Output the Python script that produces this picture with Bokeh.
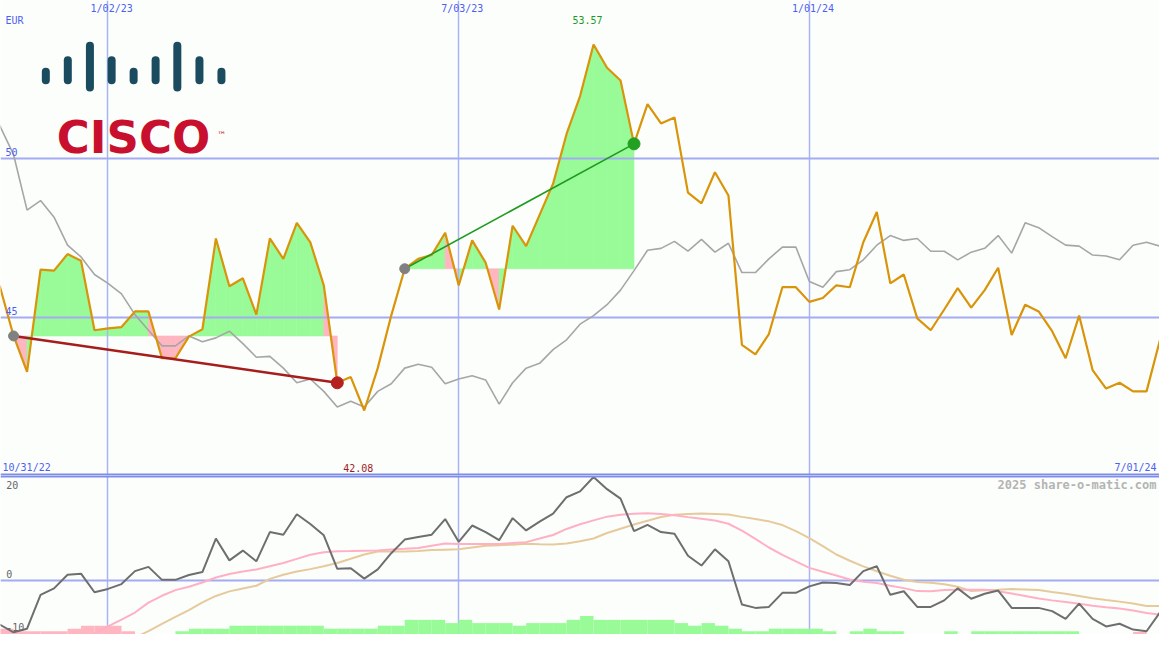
from bokeh.plotting import figure
from bokeh.layouts import column
from bokeh.models import Range1d, Grid, FixedTicker, Label, Span
from bokeh.embed import file_html
from bokeh.resources import INLINE

# ---------------- data ----------------
first_date = "10/31/22"
last_date = "7/01/24"
weeks = list(range(88))
tick_weeks = [9, 35, 61]
tick_labels = ["1/02/23", "7/03/23", "1/01/24"]
price_ticks = [45, 50]
osc_ticks = [20, 0, -10]
currency = "EUR"

price = [46.70, 45.95, 44.42, 43.29, 46.50, 46.47, 46.99, 46.78, 44.60, 44.66,
         44.70, 45.19, 45.19, 43.72, 43.72, 44.40, 44.63, 47.48, 45.98, 46.23,
         45.09, 47.48, 46.84, 47.97, 47.36, 46.01, 42.95, 43.13, 42.08, 43.41,
         45.06, 46.53, 46.84, 46.96, 47.66, 46.01, 47.42, 46.72, 45.25, 47.88,
         47.24, 48.22, 49.20, 50.76, 51.95, 53.57, 52.84, 52.44, 50.45, 51.70,
         51.09, 51.28, 48.92, 48.58, 49.56, 48.83, 44.14, 43.84, 44.48, 45.95,
         45.95, 45.49, 45.61, 46.01, 45.95, 47.36, 48.31, 46.07, 46.35, 44.97,
         44.60, 45.25, 45.92, 45.31, 45.86, 46.56, 44.45, 45.40, 45.19, 44.57,
         43.72, 45.06, 43.35, 42.77, 42.95, 42.68, 42.68, 44.30]

benchmark = [51.89, 51.00, 50.11, 48.37, 48.67, 48.15, 47.27, 46.90, 46.35, 46.07,
             45.74, 45.09, 44.60, 44.11, 44.11, 44.42, 44.24, 44.36, 44.57, 44.18,
             43.75, 43.78, 43.41, 42.95, 43.07, 42.68, 42.19, 42.37, 42.19, 42.68,
             42.92, 43.41, 43.53, 43.44, 42.92, 43.07, 43.17, 43.04, 42.28, 42.95,
             43.41, 43.56, 43.99, 44.30, 44.79, 45.06, 45.40, 45.86, 46.47, 47.11,
             47.17, 47.39, 47.08, 47.45, 47.05, 47.33, 46.41, 46.41, 46.84, 47.21,
             47.21, 46.13, 45.95, 46.44, 46.50, 46.81, 47.27, 47.57, 47.42, 47.48,
             47.08, 47.08, 46.81, 47.05, 47.17, 47.57, 47.02, 47.97, 47.82, 47.54,
             47.27, 47.24, 46.96, 46.93, 46.81, 47.27, 47.36, 47.24]

momentum = [-8.00, -8.43, -9.87, -9.18, -2.68, -1.44, 1.18, 1.37, -2.19, -1.55,
            -0.62, 1.87, 2.68, 0.19, 0.19, 1.12, 1.69, 8.11, 3.93, 5.81,
            3.75, 9.36, 8.86, 12.79, 10.92, 8.75, 2.30, 2.43, 0.43, 2.19,
            5.30, 7.92, 8.43, 8.86, 11.85, 7.49, 10.62, 9.36, 7.81, 12.04,
            9.68, 11.37, 12.92, 16.05, 17.17, 19.94, 17.60, 15.79, 9.55, 10.73,
            9.36, 9.04, 4.81, 2.94, 6.05, 3.75, -4.55, -5.19, -5.00, -2.30,
            -2.30, -1.07, -0.32, -0.43, -0.81, 1.87, 2.81, -2.68, -2.00, -5.00,
            -5.00, -3.75, -1.44, -3.43, -2.49, -1.87, -5.19, -5.19, -5.19, -5.81,
            -7.30, -4.36, -7.30, -8.75, -8.24, -9.36, -9.68, -6.05]

nan = float("nan")
mom_fast = [nan, nan, nan, nan, nan, nan, nan, -11.60, -10.10, -8.75,
            -7.45, -6.09, -4.18, -2.87, -1.78, -1.12, -0.32, 0.64, 1.31, 1.78,
            2.17, 2.81, 3.41, 4.21, 5.00, 5.47, 5.66, 5.71, 5.77, 5.81,
            6.03, 6.14, 6.31, 6.74, 7.17, 7.06, 7.06, 7.06, 7.06, 7.25,
            7.43, 8.11, 8.80, 9.96, 10.86, 11.61, 12.32, 12.70, 12.88, 12.98,
            12.85, 12.58, 12.23, 11.91, 11.59, 10.96, 9.64, 8.05, 6.40, 5.00,
            3.75, 2.49, 1.74, 1.01, 0.26, -0.19, -0.43, -0.94, -1.40, -1.97,
            -2.00, -1.78, -1.69, -1.69, -1.72, -1.99, -2.43, -2.90, -3.41, -3.75,
            -4.06, -4.40, -4.78, -5.06, -5.30, -5.71, -6.18, -6.46]

mom_slow = [nan, nan, nan, nan, nan, nan, nan, nan, nan, nan,
            nan, -10.90, -9.64, -8.24, -6.93, -5.62, -4.12, -2.90, -2.02, -1.46,
            -0.94, 0.37, 1.18, 1.80, 2.25, 2.81, 3.41, 4.23, 5.06, 5.62,
            5.62, 5.62, 5.73, 5.90, 5.99, 6.05, 6.42, 6.74, 6.82, 6.95,
            7.13, 7.00, 6.97, 7.17, 7.58, 8.13, 9.18, 10.00, 10.82, 11.55,
            12.25, 12.70, 12.85, 12.92, 12.85, 12.72, 12.28, 11.85, 11.42, 10.71,
            9.55, 8.18, 6.65, 5.06, 3.86, 2.77, 1.84, 0.97, 0.22, -0.21,
            -0.37, -0.66, -1.12, -1.97, -1.80, -1.69, -1.57, -1.65, -1.74, -2.15,
            -2.49, -2.90, -3.33, -3.67, -3.99, -4.36, -4.81, -4.81]

hist = [-1.12, -1.12, -0.62, -0.62, -0.62, -0.62, -1.12, -1.69, -1.69, -1.69,
        -0.62, 0, 0, 0, 0.62, 1.12, 1.12, 1.12, 1.69, 1.69,
        1.69, 1.69, 1.69, 1.69, 1.69, 1.12, 1.12, 1.12, 1.12, 1.69,
        1.69, 2.81, 2.81, 2.81, 2.19, 2.81, 2.19, 2.19, 2.19, 1.69,
        2.19, 2.19, 2.19, 2.81, 3.56, 2.81, 2.81, 2.81, 2.81, 2.81,
        2.81, 2.19, 1.69, 2.19, 1.69, 1.12, 0.62, 0.62, 1.12, 1.12,
        1.12, 1.12, 0.62, 0, 0.62, 1.12, 0.62, 0.62, 0, 0,
        0, 0.62, 0, 0.62, 0.62, 0.62, 0.62, 0.62, 0.62, 0.62,
        0.62, 0, 0, 0, 0, -0.5, 0, 0]

trend_pairs = [(2, 26), (31, 48)]
copyright_text = "2025 share-o-matic.com"

# ---------------- style ----------------
BG = "#fcfefc"
BLUE_TXT = "#4d5ff0"
HGRID = "#a3acf2"
VGRID = "#aab4f5"
BORDER = "#7f8cea"
GREEN_FILL = "#98fb98"
PINK_FILL = "#ffb6c1"
MONO = "DejaVu Sans Mono"

W = 1159
H_TOP = 475
H_BOT = 159

x_rng = Range1d(1.03, 86.96)


def make_fig(height, y_range):
    p = figure(width=W, height=height, x_range=x_rng, y_range=y_range,
               output_backend="svg", toolbar_location=None,
               x_axis_location=None, y_axis_location=None, min_border=0,
               background_fill_color=BG, border_fill_color=BG, outline_line_color=None)
    # drop default grids, keep only our own fixed ones
    p.center = [c for c in p.center if not isinstance(c, Grid)]
    return p


top = make_fig(H_TOP, Range1d(40.04, 54.95))
top.add_layout(Grid(dimension=0, ticker=FixedTicker(ticks=tick_weeks),
                    grid_line_color=VGRID, grid_line_width=1.5))
top.add_layout(Grid(dimension=1, ticker=FixedTicker(ticks=price_ticks),
                    grid_line_color=HGRID, grid_line_width=2))

# performance fill between price and the start level of each trend
pxs, pys, pcol = [], [], []
for a, b in trend_pairs:
    base = price[a]
    for i in range(a, b):
        pxs.append([weeks[i], weeks[i], weeks[i + 1], weeks[i + 1]])
        pys.append([base, price[i], price[i + 1], base])
        pcol.append(GREEN_FILL if price[i + 1] >= base else PINK_FILL)
fill_r = top.patches(xs=pxs, ys=pys, fill_color=pcol, line_color=pcol, line_width=0.6)
fill_r.level = "image"

top.line(weeks, benchmark, line_color="#a6a6a6", line_width=1.6)
top.line(weeks, price, line_color="#d9940a", line_width=2.2)

top.segment(x0=[weeks[a] for a, b in trend_pairs], y0=[price[a] for a, b in trend_pairs],
            x1=[weeks[b] for a, b in trend_pairs], y1=[price[b] for a, b in trend_pairs],
            line_color=["#a51d1d", "#1f9a1f"], line_width=[2.6, 1.6])
top.scatter(x=[weeks[a] for a, b in trend_pairs], y=[price[a] for a, b in trend_pairs],
            size=10, color="#808080")
top.scatter(x=[weeks[b] for a, b in trend_pairs], y=[price[b] for a, b in trend_pairs],
            size=12, color=["#b52020", "#22a022"])

top.add_layout(Span(location=40.04, dimension="width", line_color=BORDER, line_width=4))

# cisco logo
logo_x = [4.39, 6.02, 7.66, 9.27, 10.90, 12.53, 14.14, 15.78, 17.41]
logo_kind = ["s", "m", "t", "m", "s", "m", "t", "m", "s"]
logo_ext = {"s": (52.449, 52.715), "m": (52.449, 53.073), "t": (52.216, 53.532)}
top.segment(x0=logo_x, y0=[logo_ext[k][0] for k in logo_kind],
            x1=logo_x, y1=[logo_ext[k][1] for k in logo_kind],
            line_color="#1b4b5f", line_width=8, line_cap="round")
top.add_layout(Label(x=5.2, y=50.66, text="CISCO", text_font="DejaVu Sans",
                     text_font_style="bold", text_font_size="45px",
                     text_color="#c8102e", text_baseline="alphabetic", text_align="left"))
top.add_layout(Label(x=17.1, y=50.88, text="™", text_font="DejaVu Sans",
                     text_font_size="9px", text_color="#c8102e",
                     text_baseline="top", text_align="left"))


def lab(p, x, y, text, color=BLUE_TXT, align="left", size="10px", style="normal", font=MONO):
    p.add_layout(Label(x=x, y=y, text=text, text_font=font, text_font_size=size,
                       text_font_style=style, text_color=color,
                       text_align=align, text_baseline="middle"))


lab(top, 1.40, 54.31, currency)
for t, s in zip(tick_weeks, tick_labels):
    lab(top, t + 0.27, 54.70, s, align="center")
lab(top, 1.40, 50.19, str(price_ticks[1]))
lab(top, 1.40, 45.20, str(price_ticks[0]))
lab(top, 1.18, 40.29, first_date)
lab(top, 86.74, 40.29, last_date, align="right")
imax = price.index(max(price))
imin = price.index(min(price))
lab(top, weeks[imax] - 0.45, 54.34, f"{price[imax]:.2f}", color="#1f9a1f", align="center")
lab(top, weeks[imin] - 0.45, 40.29, f"{price[imin]:.2f}", color="#9b1c1c", align="center")

# ---------------- oscillator panel ----------------
bot = make_fig(H_BOT, Range1d(-10.3, 20.22))
bot.add_layout(Grid(dimension=0, ticker=FixedTicker(ticks=tick_weeks),
                    grid_line_color=VGRID, grid_line_width=1.5))
bot.add_layout(Grid(dimension=1, ticker=FixedTicker(ticks=[0]),
                    grid_line_color=HGRID, grid_line_width=2))

y0 = bot.y_range.start
bars = [(w, h) for w, h in zip(weeks, hist) if h != 0]
bot.quad(left=[w for w, h in bars], right=[w + 1 for w, h in bars],
         bottom=[y0] * len(bars), top=[y0 + abs(h) for w, h in bars],
         fill_color=[GREEN_FILL if h > 0 else PINK_FILL for w, h in bars],
         line_color=None)

bot.line(weeks, mom_slow, line_color="#e6ca9c", line_width=2)
bot.line(weeks, mom_fast, line_color="#ffb0c4", line_width=2)
bot.line(weeks, momentum, line_color="#6e6e6e", line_width=2)

bot.add_layout(Span(location=bot.y_range.end, dimension="width", line_color=BORDER, line_width=4))

lab(bot, 1.45, 18.35, str(osc_ticks[0]), color="#666666")
lab(bot, 1.45, 1.22, str(osc_ticks[1]), color="#666666")
lab(bot, 1.45, -8.80, str(osc_ticks[2]), color="#666666")
lab(bot, 86.74, 18.35, copyright_text, color="#b4b4b4", align="right", size="12px", style="bold")

layout = column(top, bot)
open("out.html", "w").write(file_html(layout, INLINE))
